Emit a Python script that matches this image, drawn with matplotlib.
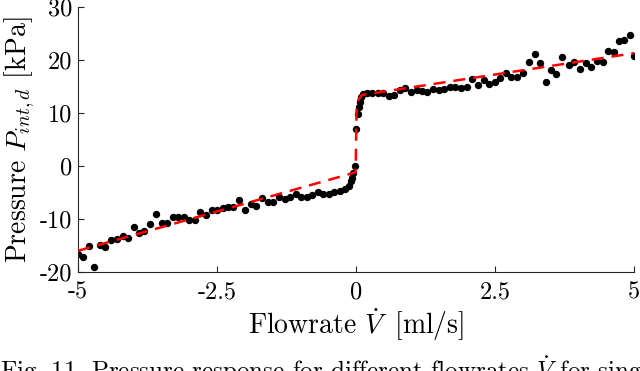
import matplotlib
matplotlib.use('Agg')
import matplotlib.pyplot as plt

plt.rcParams['font.family'] = 'serif'
plt.rcParams['font.serif'] = ['cmr10']
plt.rcParams['mathtext.fontset'] = 'cm'
plt.rcParams['axes.unicode_minus'] = False

# measured points (flowrate in ml/s, pressure in kPa)
flow = [-5.0, -4.92, -4.8, -4.71, -4.6, -4.51, -4.41, -4.3, -4.2, -4.11,
        -4.0, -3.9, -3.81, -3.71, -3.6, -3.5, -3.41, -3.3, -3.2, -3.1,
        -3.0, -2.9, -2.81, -2.7, -2.6, -2.5, -2.4, -2.3, -2.21, -2.1,
        -2.0, -1.89, -1.8, -1.7, -1.59, -1.5, -1.39, -1.28, -1.19, -1.09,
        -0.99, -0.89, -0.79, -0.68, -0.59, -0.49, -0.39, -0.29, -0.2, -0.13,
        -0.09, -0.07, -0.05, -0.02, 0.0, 0.04, 0.06, 0.07, 0.09, 0.12,
        0.19, 0.29, 0.39, 0.48, 0.59, 0.68, 0.78, 0.88, 0.98, 1.09,
        1.19, 1.28, 1.39, 1.49, 1.58, 1.69, 1.78, 1.88, 1.99, 2.09,
        2.19, 2.29, 2.38, 2.49, 2.59, 2.7, 2.79, 2.89, 3.0, 3.11,
        3.21, 3.3, 3.41, 3.5, 3.6, 3.71, 3.83, 3.92, 4.03, 4.13,
        4.23, 4.33, 4.43, 4.52, 4.63, 4.73, 4.82, 4.93, 5.0]
pressure = [-16.7, -17.1, -15.1, -19.1, -15.0, -15.3, -14.0, -13.7, -13.2, -13.5,
            -11.6, -12.7, -12.2, -11.0, -9.1, -10.8, -10.8, -9.7, -9.7, -9.6,
            -10.2, -10.2, -8.6, -9.2, -8.4, -8.3, -8.0, -7.8, -7.7, -6.5,
            -8.4, -7.1, -7.6, -6.1, -6.8, -6.8, -5.8, -6.2, -5.8, -5.3,
            -5.8, -5.8, -5.5, -5.0, -5.3, -5.3, -5.0, -4.7, -4.3, -3.8,
            -2.9, -2.3, -1.4, 0.0, 6.9, 9.9, 11.2, 12.1, 13.1, 13.5,
            13.7, 13.7, 13.8, 13.7, 13.2, 13.4, 14.3, 14.7, 13.9, 14.3,
            14.2, 13.9, 14.5, 14.3, 14.6, 14.9, 15.0, 14.7, 15.0, 16.5,
            15.3, 16.2, 15.5, 15.9, 16.7, 17.6, 16.8, 16.8, 17.5, 19.7,
            21.2, 19.5, 15.9, 18.1, 17.4, 20.6, 19.1, 19.7, 18.4, 19.4,
            18.7, 19.9, 19.7, 21.7, 21.5, 23.5, 23.7, 24.7, 20.8]

# fitted model
fit_flow = [-5.0, -0.01, 0.01, 0.1, 5.0]
fit_pressure = [-16.0, -1.2, 12.0, 13.4, 21.3]

xticks = [-5, -2.5, 0, 2.5, 5]
xticklabels = ['-5', '-2.5', '0', '2.5', '5']
yticks = [-20, -10, 0, 10, 20, 30]
yticklabels = ['-20', '-10', '0', '10', '20', '30']

fig = plt.figure(figsize=(6.4, 3.71), dpi=100)
ax = fig.add_axes([0.122, 0.267, 0.869, 0.714])

ax.plot(flow, pressure, 'o', color='black', markersize=4.3, zorder=2)
ax.plot(fit_flow, fit_pressure, color='red', lw=1.8, dashes=(4.8, 3.2), zorder=3)

ax.set_xlim(-5, 5)
ax.set_ylim(-20, 30)
ax.set_xticks(xticks)
ax.set_xticklabels(xticklabels)
ax.set_yticks(yticks)
ax.set_yticklabels(yticklabels)
ax.tick_params(direction='in', length=4, width=0.8, color='0.15', labelsize=17.5, pad=4)
ax.tick_params(axis='x', pad=7)
for s in ['top', 'right']:
    ax.spines[s].set_visible(False)
for s in ['left', 'bottom']:
    ax.spines[s].set_color('0.15')
    ax.spines[s].set_linewidth(0.8)

ax.set_xlabel(r'Flowrate $\dot{V}\,$ [ml/s]', fontsize=20, labelpad=2)
ax.set_ylabel(r'Pressure $P_{int,d}$ [kPa]', fontsize=20, labelpad=2)

fig.text(0.0, 1 - 354 / 371,
         r'Fig. 11. Pressure response for different flowrates $\dot{V}$ for single',
         fontsize=18, va='top', ha='left')

fig.savefig('out.png', dpi=100)
